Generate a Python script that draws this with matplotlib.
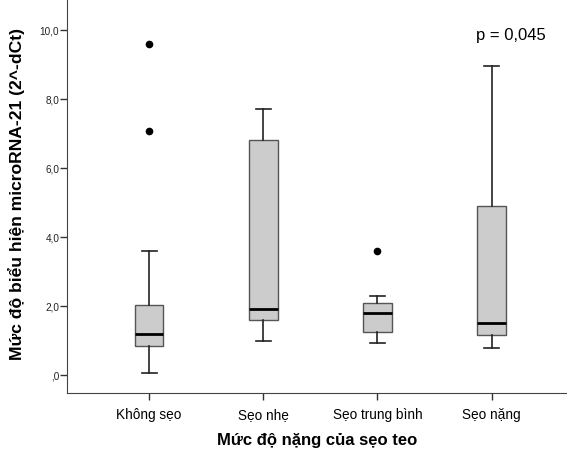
import matplotlib.pyplot as plt

plt.rcParams['font.family'] = ['Liberation Sans', 'DejaVu Sans']

# values
groups = ['Không sẹo', 'Sẹo nhẹ', 'Sẹo trung bình', 'Sẹo nặng']
whis_lo = [0.06, 0.98, 0.92, 0.78]
q1 = [0.85, 1.59, 1.24, 1.16]
medians = [1.18, 1.92, 1.80, 1.50]
q3 = [2.03, 6.81, 2.09, 4.91]
whis_hi = [3.60, 7.71, 2.30, 8.97]
outliers = [[9.59, 7.08], [], [3.60], []]

yticks = [0, 2, 4, 6, 8, 10]
ytick_labels = [',0', '2,0', '4,0', '6,0', '8,0', '10,0']
p_text = 'p = 0,045'

stats = []
for i, g in enumerate(groups):
    stats.append({'label': g, 'whislo': whis_lo[i], 'q1': q1[i], 'med': medians[i],
                  'q3': q3[i], 'whishi': whis_hi[i], 'fliers': outliers[i]})

fig = plt.figure(figsize=(5.67, 4.53), dpi=100)
ax = fig.add_axes([0.118, 0.1325, 0.882, 0.867])

positions = list(range(1, len(groups) + 1))
ax.bxp(stats, positions=positions, widths=0.25, patch_artist=True,
       boxprops=dict(facecolor='#cccccc', edgecolor='#555555', linewidth=1.0),
       medianprops=dict(color='black', linewidth=2.0),
       whiskerprops=dict(color='#222222', linewidth=1.2),
       capprops=dict(color='#222222', linewidth=1.2),
       capwidths=0.13,
       flierprops=dict(marker='o', markerfacecolor='black', markeredgecolor='black',
                       markersize=4.5))

ax.set_xlim(0.28, 4.66)
ax.set_ylim(-0.52, 10.87)
ax.set_yticks(yticks)
ax.set_yticklabels(ytick_labels, fontsize=7.2, color='#222222')
ax.set_xticks(positions)
ax.set_xticklabels(groups, fontsize=9.8)
ax.tick_params(axis='both', direction='out', length=5, width=1, color='#333333')
ax.tick_params(axis='y', pad=0.5)
ax.tick_params(axis='x', pad=6)

for s in ['top', 'right']:
    ax.spines[s].set_visible(False)
for s in ['left', 'bottom']:
    ax.spines[s].set_color('#444444')

ax.set_ylabel('Mức độ biểu hiện microRNA-21 (2^-dCt)', fontsize=12.6, fontweight='bold')
ax.yaxis.set_label_coords(-0.083, 0.507)
ax.set_xlabel('Mức độ nặng của sẹo teo', fontsize=12, fontweight='bold', labelpad=8)

ax.text(4.17, 9.86, p_text, fontsize=12, ha='center', va='center')

fig.savefig('out.png', dpi=100)
